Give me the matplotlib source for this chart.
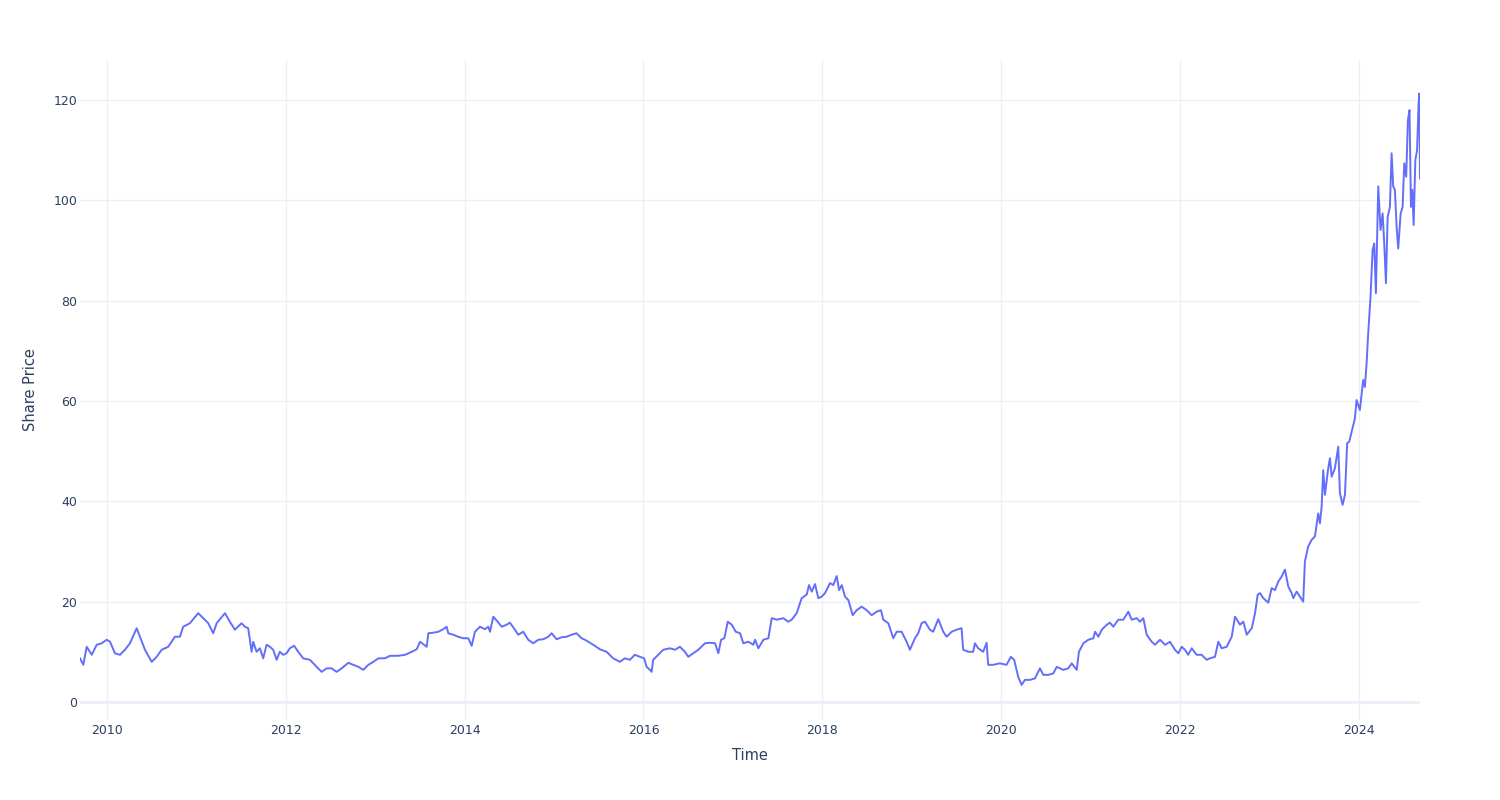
import matplotlib
matplotlib.use("Agg")
import matplotlib.pyplot as plt
import pandas as pd
import numpy as np

# Time in decimal years
years = [
    2009.698, 2009.735, 2009.773, 2009.829, 2009.885, 2009.941, 2009.997, 2010.034, 2010.089, 2010.145,
    2010.201, 2010.257, 2010.332, 2010.369, 2010.425, 2010.500, 2010.556, 2010.612, 2010.685, 2010.760,
    2010.816, 2010.853, 2010.928, 2011.021, 2011.077, 2011.133, 2011.189, 2011.227, 2011.320, 2011.375,
    2011.431, 2011.506,
    2011.543, 2011.580, 2011.618, 2011.636, 2011.674, 2011.711, 2011.748, 2011.786, 2011.823, 2011.860,
    2011.898, 2011.934, 2011.971, 2012.009, 2012.046, 2012.094, 2012.139, 2012.195, 2012.270, 2012.345,
    2012.401, 2012.457, 2012.513, 2012.568, 2012.624, 2012.698, 2012.754, 2012.810, 2012.866, 2012.922,
    2012.978, 2013.034, 2013.109, 2013.164, 2013.201, 2013.257, 2013.332, 2013.407, 2013.463,
    2013.500, 2013.575, 2013.593, 2013.649, 2013.705, 2013.760, 2013.798, 2013.816, 2013.872, 2013.928,
    2013.984, 2014.040, 2014.078, 2014.115, 2014.171, 2014.227, 2014.264, 2014.283, 2014.320, 2014.369,
    2014.414, 2014.469, 2014.506, 2014.562, 2014.599, 2014.655, 2014.711, 2014.767, 2014.823, 2014.879,
    2014.935, 2014.972, 2015.029, 2015.084, 2015.140, 2015.196, 2015.252, 2015.308,
    2015.345, 2015.382, 2015.438, 2015.513, 2015.588, 2015.661, 2015.736, 2015.792, 2015.848, 2015.904,
    2015.960, 2016.008, 2016.035, 2016.072, 2016.091, 2016.109, 2016.165, 2016.221, 2016.295, 2016.351,
    2016.407, 2016.463, 2016.500, 2016.556, 2016.612, 2016.687, 2016.743, 2016.799, 2016.836, 2016.866,
    2016.903, 2016.941, 2016.985, 2017.030, 2017.078, 2017.115, 2017.171, 2017.227,
    2017.246, 2017.283, 2017.339, 2017.395, 2017.433, 2017.489, 2017.562, 2017.618, 2017.656, 2017.712,
    2017.768, 2017.824, 2017.850, 2017.880, 2017.917, 2017.954, 2017.992, 2018.029, 2018.085, 2018.122,
    2018.160, 2018.186, 2018.216, 2018.253, 2018.290, 2018.339, 2018.384, 2018.439, 2018.495, 2018.551,
    2018.607, 2018.655, 2018.681, 2018.737, 2018.793, 2018.831, 2018.886, 2018.942, 2018.979, 2019.035,
    2019.072, 2019.110,
    2019.147, 2019.203, 2019.240, 2019.296, 2019.352, 2019.390, 2019.446, 2019.501, 2019.557, 2019.575,
    2019.631, 2019.687, 2019.706, 2019.743, 2019.799, 2019.837, 2019.855, 2019.911, 2019.985, 2020.060,
    2020.108, 2020.145, 2020.190, 2020.228, 2020.265, 2020.321, 2020.377, 2020.433, 2020.470, 2020.526,
    2020.582, 2020.620, 2020.693, 2020.749, 2020.787, 2020.843, 2020.868, 2020.917, 2020.973, 2021.029,
    2021.048, 2021.085, 2021.123, 2021.179, 2021.215, 2021.252, 2021.308, 2021.364, 2021.420, 2021.458,
    2021.514, 2021.551, 2021.588, 2021.626, 2021.682, 2021.719, 2021.775, 2021.831, 2021.886, 2021.942,
    2021.980, 2022.017, 2022.054, 2022.091, 2022.129, 2022.185, 2022.241, 2022.297, 2022.334, 2022.390,
    2022.427, 2022.465, 2022.521, 2022.577, 2022.614, 2022.670, 2022.707, 2022.745, 2022.801, 2022.838,
    2022.868,
    2022.893, 2022.930, 2022.986, 2023.024, 2023.061, 2023.098, 2023.136, 2023.173, 2023.210, 2023.248,
    2023.266, 2023.304, 2023.340, 2023.377, 2023.396, 2023.433, 2023.471, 2023.508, 2023.545, 2023.564,
    2023.583, 2023.601, 2023.620, 2023.657, 2023.676, 2023.695, 2023.732, 2023.769, 2023.788, 2023.818,
    2023.844, 2023.869, 2023.892,
    2023.955, 2023.974, 2024.011, 2024.048, 2024.067, 2024.086, 2024.104, 2024.130, 2024.153, 2024.171,
    2024.190, 2024.216, 2024.242, 2024.265, 2024.283, 2024.302, 2024.321, 2024.346, 2024.365, 2024.383,
    2024.402, 2024.421, 2024.439, 2024.466, 2024.488, 2024.506, 2024.528, 2024.547, 2024.565, 2024.581,
    2024.596, 2024.611, 2024.630, 2024.649, 2024.666, 2024.674, 2024.682,
]

share_price = [
    8.7, 7.4, 11.0, 9.4, 11.4, 11.7, 12.4, 12.0, 9.7, 9.4,
    10.4, 11.7, 14.7, 13.0, 10.4, 8.0, 9.0, 10.4, 11.0, 13.0,
    13.0, 15.0, 15.7, 17.7, 16.7, 15.7, 13.7, 15.7, 17.7, 16.0,
    14.4, 15.7,
    15.0, 14.7, 10.0, 12.0, 10.0, 10.7, 8.7, 11.4, 11.0, 10.4,
    8.4, 10.0, 9.4, 9.7, 10.7, 11.2, 10.0, 8.7, 8.4, 7.0,
    6.0, 6.7, 6.7, 6.0, 6.7, 7.8, 7.4, 7.0, 6.4, 7.4,
    8.0, 8.7, 8.7, 9.2, 9.2, 9.2, 9.4, 10.0, 10.5,
    12.0, 11.0, 13.7, 13.8, 14.0, 14.5, 15.0, 13.7, 13.4, 13.0,
    12.7, 12.7, 11.2, 14.0, 15.0, 14.5, 15.0, 14.0, 17.0, 16.0,
    15.0, 15.4, 15.8, 14.4, 13.4, 14.0, 12.4, 11.7, 12.4, 12.5,
    13.0, 13.7, 12.5, 12.9, 13.0, 13.4, 13.7, 12.7,
    12.4, 12.0, 11.4, 10.5, 10.0, 8.7, 8.0, 8.7, 8.4, 9.4,
    9.0, 8.7, 7.0, 6.4, 6.0, 8.4, 9.4, 10.4, 10.7, 10.4,
    11.0, 10.0, 9.0, 9.7, 10.4, 11.7, 11.8, 11.7, 9.7, 12.4,
    12.7, 16.0, 15.4, 14.0, 13.7, 11.7, 12.0, 11.4,
    12.4, 10.7, 12.4, 12.7, 16.7, 16.4, 16.7, 16.0, 16.4, 17.7,
    20.7, 21.4, 23.3, 22.0, 23.5, 20.7, 21.0, 21.7, 23.7, 23.3,
    25.1, 22.3, 23.3, 21.0, 20.3, 17.3, 18.3, 19.0, 18.3, 17.3,
    18.0, 18.3, 16.4, 15.7, 12.7, 14.0, 14.0, 12.0, 10.4, 12.7,
    13.7, 15.7,
    16.0, 14.4, 14.0, 16.5, 14.0, 13.0, 14.0, 14.4, 14.7, 10.4,
    10.0, 10.0, 11.7, 10.7, 10.0, 11.8, 7.4, 7.4, 7.7, 7.4,
    9.0, 8.4, 5.0, 3.4, 4.4, 4.4, 4.7, 6.7, 5.4, 5.4,
    5.7, 7.0, 6.4, 6.7, 7.7, 6.4, 10.0, 11.7, 12.4, 12.7,
    14.0, 13.0, 14.4, 15.4, 15.8, 15.0, 16.4, 16.4, 18.0, 16.4,
    16.7, 16.0, 16.7, 13.4, 12.0, 11.4, 12.4, 11.4, 12.0, 10.4,
    9.7, 11.0, 10.4, 9.4, 10.7, 9.4, 9.4, 8.4, 8.7, 9.0,
    12.0, 10.7, 11.0, 13.0, 17.0, 15.4, 16.0, 13.4, 14.7, 17.7,
    21.4,
    21.7, 20.7, 19.8, 22.7, 22.3, 24.0, 25.0, 26.4, 23.0, 21.7,
    20.7, 22.0, 21.0, 20.0, 28.0, 31.0, 32.3, 33.0, 37.6, 35.6,
    38.9, 46.2, 41.3, 46.6, 48.6, 44.9, 46.6, 50.9, 41.6, 39.3,
    41.3, 51.6, 51.9,
    56.5, 60.2, 58.2, 64.2, 62.8, 67.5, 73.5, 80.8, 90.1, 91.4,
    81.5, 102.8, 94.1, 97.4, 91.4, 83.5, 96.7, 98.7, 109.4, 102.8,
    102.1, 94.7, 90.4, 97.4, 98.7, 107.4, 104.7, 116.0, 118.0, 98.7,
    102.1, 95.1, 108.0, 110.0, 119.3, 121.3, 104.4,
]

x_tick_years = [2010, 2012, 2014, 2016, 2018, 2020, 2022, 2024]
y_ticks = [0, 20, 40, 60, 80, 100, 120]


def to_datetime(y):
    yr = int(np.floor(y))
    start = pd.Timestamp(year=yr, month=1, day=1)
    end = pd.Timestamp(year=yr + 1, month=1, day=1)
    return start + (end - start) * (y - yr)


dates = [to_datetime(y) for y in years]

TEXT = "#2a3f5f"
GRID = "#EBF0F8"

fig = plt.figure(figsize=(15, 8), dpi=100)
ax = fig.add_axes([80 / 1500, 80 / 800, 1340 / 1500, 660 / 800])

ax.plot(dates, share_price, color="#636efa", linewidth=1.4, zorder=3)

ax.set_xlim(dates[0], dates[-1])
ax.set_ylim(-3.6, 128.0)

ax.set_xticks([pd.Timestamp(year=y, month=1, day=1) for y in x_tick_years])
ax.set_xticklabels([str(y) for y in x_tick_years])
ax.set_yticks(y_ticks)
ax.set_yticklabels([str(v) for v in y_ticks])

ax.grid(True, color=GRID, linewidth=1.0, zorder=0)
ax.axhline(0, color=GRID, linewidth=2.0, zorder=1)
for s in ax.spines.values():
    s.set_visible(False)
ax.tick_params(axis="both", length=0, colors=TEXT, labelsize=9)
ax.tick_params(axis="y", pad=2)
ax.tick_params(axis="x", pad=3)

ax.set_xlabel("Time", fontsize=10.5, color=TEXT, labelpad=8)
ax.set_ylabel("Share Price", fontsize=10.5, color=TEXT, labelpad=11)

fig.savefig("out.png", dpi=100, facecolor="white")
